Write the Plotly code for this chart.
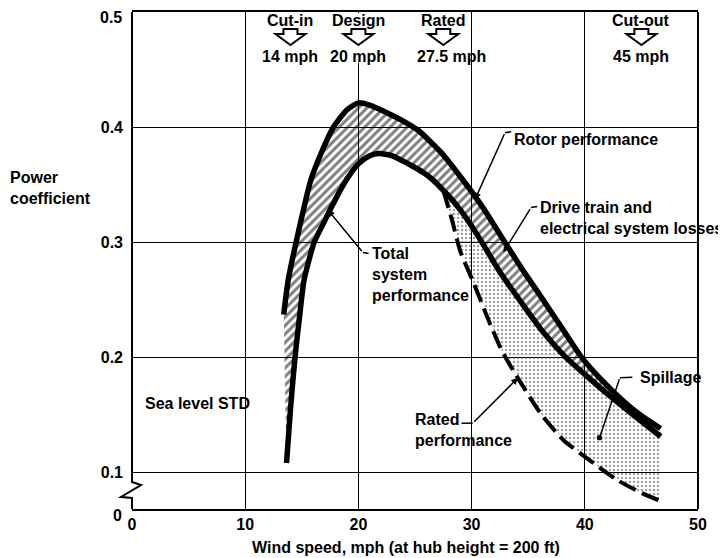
import numpy as np
import plotly.graph_objects as go

# ---------------- data ----------------
rotor_v = [13.4, 13.8, 14.5, 15.8, 16.7, 17.8, 19.0, 20.0, 21.0, 22.6, 24.0, 25.3, 27.3, 29.0,
           31.0, 32.8, 34.5, 36.3, 38.0, 39.7, 41.5, 43.5, 45.0, 46.7]
rotor_cp = [0.237, 0.267, 0.300, 0.354, 0.377, 0.400, 0.415, 0.421, 0.419, 0.412, 0.405, 0.397,
            0.378, 0.357, 0.330, 0.302, 0.276, 0.250, 0.225, 0.200, 0.180, 0.161, 0.149, 0.138]

total_v = [13.65, 14.0, 14.4, 14.8, 15.2, 16.1, 17.0, 17.6, 18.8, 20.0, 21.0, 21.8, 23.0, 24.6,
           25.8, 26.7, 27.5, 27.9, 29.0, 30.0, 30.9, 32.5, 34.5, 36.3, 38.3, 40.0, 42.0, 44.0, 46.7]
total_cp = [0.108, 0.155, 0.200, 0.235, 0.267, 0.300, 0.318, 0.330, 0.352, 0.368, 0.375, 0.377,
            0.375, 0.367, 0.360, 0.353, 0.345, 0.341, 0.328, 0.314, 0.300, 0.274, 0.246, 0.222,
            0.200, 0.185, 0.168, 0.152, 0.131]

rated_v = [27.5, 28.3, 29.0, 30.2, 31.5, 32.7, 34.2, 36.1, 38.1, 40.2, 42.9, 45.0, 46.7]
rated_cp = [0.345, 0.318, 0.292, 0.264, 0.232, 0.205, 0.180, 0.151, 0.128, 0.112, 0.093, 0.082, 0.075]

marker_names = ["Cut-in", "Design", "Rated", "Cut-out"]
marker_speeds = [14, 20, 27.5, 45]
marker_labels = ["14 mph", "20 mph", "27.5 mph", "45 mph"]

x_ticks = [0, 10, 20, 30, 40, 50]
y_ticks = [0.1, 0.2, 0.3, 0.4]
y_ticktext = ["0.1", "0.2", "0.3", "0.4"]

Y_MIN, Y_MAX = 0.068, 0.5
FONT = "Liberation Sans"

# ---------------- figure ----------------
fig = go.Figure()

# spillage region (between total system and rated performance)
tv = np.array(total_v)
tc = np.array(total_cp)
mask = tv > rated_v[0]
sp_x = np.concatenate([rated_v, tv[mask][::-1], [rated_v[0]]])
sp_y = np.concatenate([rated_cp, tc[mask][::-1], [rated_cp[0]]])
fig.add_trace(go.Scatter(
    x=sp_x, y=sp_y, mode="lines", line=dict(width=0), fill="toself",
    fillcolor="rgba(0,0,0,0)",
    fillpattern=dict(shape=".", fgcolor="#444444", bgcolor="rgba(0,0,0,0)", size=4, solidity=0.3),
    hoverinfo="skip"))

# losses band (between rotor and total system)
band_x = np.concatenate([rotor_v, tv[::-1], [rotor_v[0]]])
band_y = np.concatenate([rotor_cp, tc[::-1], [rotor_cp[0]]])
fig.add_trace(go.Scatter(
    x=band_x, y=band_y, mode="lines", line=dict(width=0), fill="toself",
    fillcolor="rgba(0,0,0,0)",
    fillpattern=dict(shape="/", fgcolor="black", bgcolor="rgba(0,0,0,0)", size=6, solidity=0.5),
    hoverinfo="skip"))

# rated performance (dashed)
fig.add_trace(go.Scatter(
    x=rated_v, y=rated_cp, mode="lines",
    line=dict(color="black", width=4, dash="18px,7px", shape="spline", smoothing=0.6)))

# total system performance
fig.add_trace(go.Scatter(
    x=total_v, y=total_cp, mode="lines",
    line=dict(color="black", width=5.5, shape="spline", smoothing=0.6)))

# rotor performance
fig.add_trace(go.Scatter(
    x=rotor_v, y=rotor_cp, mode="lines",
    line=dict(color="black", width=5.5, shape="spline", smoothing=0.6)))

# the page body adds an 8px offset: figure is 8px smaller, left/top margins reduced by 8
fig.update_layout(
    width=718, height=550,
    margin=dict(l=124, r=28, t=4, b=49),
    plot_bgcolor="white", paper_bgcolor="white",
    showlegend=False,
    font=dict(family=FONT, size=16, color="black"),
)

fig.update_xaxes(
    range=[0, 50], tickvals=x_ticks, showgrid=True, gridcolor="black", gridwidth=1.2,
    showline=True, linecolor="black", linewidth=2, mirror=True, zeroline=False,
    automargin=False, ticklabeloverflow="allow",
    ticks="", tickfont=dict(family=FONT, size=16, color="black", weight="bold"),
)
fig.update_yaxes(
    range=[Y_MIN, Y_MAX], tickvals=y_ticks, ticktext=y_ticktext,
    showgrid=True, gridcolor="black", gridwidth=1.2, automargin=False,
    ticklabeloverflow="allow",
    showline=False, zeroline=False, ticks="", ticklabelstandoff=8,
    tickfont=dict(family=FONT, size=16, color="black", weight="bold"),
)

shapes = []
# right frame
shapes.append(dict(type="line", xref="paper", yref="paper", x0=1, x1=1, y0=0, y1=1,
                   line=dict(color="black", width=2), layer="above"))
# left axis with break symbol
shapes.append(dict(type="path", xref="paper", xsizemode="pixel", xanchor=0,
                   yref="paper", ysizemode="pixel", yanchor=0,
                   path="M0,497 L0,27 L9,24 L-11,12 L0,11 L0,0",
                   line=dict(color="black", width=2), layer="above"))
# hide the 20 mph grid line behind the Design marker
shapes.append(dict(type="rect", xref="x", yref="y", x0=19.6, x1=20.4, y0=0.456, y1=0.499,
                   fillcolor="white", line=dict(width=0), layer="between"))

ann = []
# top markers
for name, spd, lab in zip(marker_names, marker_speeds, marker_labels):
    shapes.append(dict(type="path", xref="x", xsizemode="pixel", xanchor=spd,
                       yref="y", ysizemode="pixel", yanchor=Y_MAX,
                       path="M-7,-17 L7,-17 L7,-22 L15,-22 L0,-33 L-15,-22 L-7,-22 Z",
                       line=dict(color="black", width=2), fillcolor="white", layer="above"))
    ann.append(dict(x=spd, y=0.982, xref="x", yref="paper", text=name, showarrow=False,
                    xanchor="center", yanchor="middle",
                    font=dict(family=FONT, size=16, color="black", weight="bold")))
    ann.append(dict(x=spd, y=0.911, xref="x", yref="paper", text=lab, showarrow=False,
                    xanchor="center", yanchor="middle", xshift=8 if spd == 27.5 else 0,
                    font=dict(family=FONT, size=16, color="black", weight="bold")))

lab_font = dict(family=FONT, size=16, color="black", weight="bold")

def label(x, y, text):
    ann.append(dict(x=x, y=y, xref="x", yref="y", text=text, showarrow=False,
                    xanchor="left", yanchor="middle", align="left", font=lab_font))

def leader(hook_x, hook_y, cx, cy, tx, ty, head=2):
    shapes.append(dict(type="line", xref="x", yref="y", x0=hook_x, y0=hook_y, x1=cx, y1=cy,
                       line=dict(color="black", width=1.5), layer="above"))
    ann.append(dict(x=tx, y=ty, xref="x", yref="y", ax=cx, ay=cy, axref="x", ayref="y",
                    text="", showarrow=True, arrowhead=head, arrowsize=0.9, arrowwidth=1.5,
                    arrowcolor="black", standoff=0))

label(33.6, 0.389, "Rotor performance")
leader(33.5, 0.396, 32.95, 0.395, 30.3, 0.337)

label(35.9, 0.321, "Drive train and<br>electrical system losses")
leader(35.8, 0.331, 35.25, 0.330, 32.8, 0.291)

label(21.0, 0.272, "Total<br>system<br>performance")
leader(20.9, 0.290, 20.4, 0.291, 17.3, 0.328)

label(24.8, 0.1365, "Rated<br>performance")
leader(29.1, 0.1426, 30.1, 0.1426, 34.1, 0.182)

label(44.7, 0.1826, "Spillage")
leader(44.2, 0.1826, 43.1, 0.182, 41.3, 0.130, head=6)

label(0.97, 0.160, "Sea level STD")

# top y label (kept inside the page like the reference)
ann.append(dict(x=0, y=1, xref="paper", yref="paper", text="0.5", showarrow=False,
                xanchor="right", yanchor="middle", xshift=-8, yshift=-5, font=lab_font))
# y-axis title
ann.append(dict(x=-0.219, y=0.646, xref="paper", yref="paper", text="Power<br>coefficient",
                showarrow=False, xanchor="left", yanchor="middle", align="left", font=lab_font))
# "0" at broken axis origin
ann.append(dict(x=0, y=Y_MIN, xref="paper", yref="y", text="0", showarrow=False,
                xanchor="right", yanchor="middle", xshift=-8, yshift=-6, font=lab_font))
# x-axis title
ann.append(dict(x=0.484, y=-0.0765, xref="paper", yref="paper",
                text="Wind speed, mph (at hub height = 200 ft)", showarrow=False,
                xanchor="center", yanchor="middle",
                font=dict(family=FONT, size=16, color="black", weight="bold")))

fig.update_layout(shapes=shapes, annotations=ann)
fig.write_html("out.html")
